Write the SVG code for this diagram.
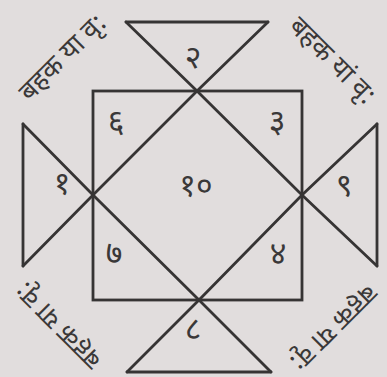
<svg xmlns="http://www.w3.org/2000/svg" width="387" height="377" viewBox="0 0 387 377">
<style>
.ln{fill:none;stroke:#363434;stroke-width:2.8;stroke-linejoin:miter;stroke-linecap:round}
.num{font-family:"Noto Sans Devanagari","Noto Sans","Lohit Devanagari",sans-serif;font-size:32px;fill:#3a3838;text-anchor:middle;dominant-baseline:central}
.lbl{font-family:"Noto Sans Devanagari","Noto Sans","Lohit Devanagari",sans-serif;font-size:27px;fill:#3a3838;text-anchor:middle;dominant-baseline:central}
</style>
<rect width="387" height="377" fill="#e1dddd"/>
<g id="connectors">
<rect class="ln" x="93" y="91" width="209" height="209"/>
<polyline class="ln" points="126,22 197,91 302,195 377,266"/>
<polyline class="ln" points="268,22 197,91 93,195 23,266"/>
<polyline class="ln" points="23,124 93,195 199,300 271,372"/>
<polyline class="ln" points="377,124 302,195 199,300 127,372"/>
<line class="ln" x1="126" y1="22" x2="268" y2="22"/>
<line class="ln" x1="127" y1="372" x2="271" y2="372"/>
<line class="ln" x1="23" y1="124" x2="23" y2="266"/>
<line class="ln" x1="377" y1="124" x2="377" y2="266"/>
</g>
<g id="n1"><text class="num" x="62" y="186">१</text></g>
<g id="n2"><text class="num" x="193" y="60">२</text></g>
<g id="n3"><text class="num" x="277" y="124">३</text></g>
<g id="n4"><text class="num" x="278" y="256">४</text></g>
<g id="n6"><text class="num" x="116" y="124">६</text></g>
<g id="n7"><text class="num" x="114" y="256">७</text></g>
<g id="n8"><text class="num" x="193" y="332">८</text></g>
<g id="n9"><text class="num" x="344" y="188">९</text></g>
<g id="n10"><text class="num" x="196" y="188">१०</text></g>
<g id="l1"><text class="lbl" transform="translate(64,59) rotate(-45)">बहक या वृ:</text></g>
<g id="l2"><text class="lbl" transform="translate(331,62) rotate(45)">बहक यां वृ:</text></g>
<g id="l3"><text class="lbl" transform="translate(60,324) rotate(-135)">बहक या वृ:</text></g>
<g id="l4"><text class="lbl" transform="translate(332,326) rotate(135)">बहक या वृ:</text></g>
</svg>
